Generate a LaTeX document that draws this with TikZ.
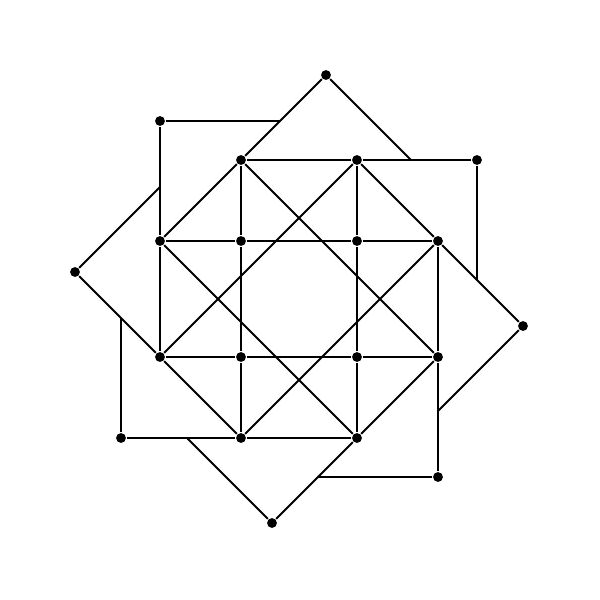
\documentclass[tikz,border=0pt]{standalone}
\usepackage{tikz}

\tikzset{vtx/.style={circle,fill=black,inner sep=0pt,minimum size=5.6pt}}

\begin{document}
\begin{tikzpicture}[x=0.02cm,y=0.02cm,line width=1.15pt]
    \useasboundingbox (-299,-301) rectangle (301,299);

    % inner square
    \node [vtx] (I1) at (-58,58) {};
    \node [vtx] (I2) at (58,58) {};
    \node [vtx] (I3) at (58,-58) {};
    \node [vtx] (I4) at (-58,-58) {};

    % middle ring
    \node [vtx] (M1) at (-139,58) {};
    \node [vtx] (M2) at (-58,139) {};
    \node [vtx] (M3) at (58,139) {};
    \node [vtx] (M4) at (139,58) {};
    \node [vtx] (M5) at (139,-58) {};
    \node [vtx] (M6) at (58,-139) {};
    \node [vtx] (M7) at (-58,-139) {};
    \node [vtx] (M8) at (-139,-58) {};

    % outer tips
    \node [vtx] (O1) at (27,224) {};
    \node [vtx] (O2) at (224,-27) {};
    \node [vtx] (O3) at (-27,-224) {};
    \node [vtx] (O4) at (-224,27) {};

    \node [vtx] (Q1) at (-139,178) {};
    \node [vtx] (Q2) at (178,139) {};
    \node [vtx] (Q3) at (139,-178) {};
    \node [vtx] (Q4) at (-178,-139) {};

    % free ends
    \coordinate (F1) at (-19,178);
    \coordinate (F2) at (178,19);
    \coordinate (F3) at (19,-178);
    \coordinate (F4) at (-178,-19);
    \coordinate (G1) at (112,139);
    \coordinate (G2) at (139,-112);
    \coordinate (G3) at (-112,-139);
    \coordinate (G4) at (-139,112);

    % grid
    \draw (M1) -- (I1) -- (I2) -- (M4);
    \draw (M8) -- (I4) -- (I3) -- (M5);
    \draw (M2) -- (I1) -- (I4) -- (M7);
    \draw (M3) -- (I2) -- (I3) -- (M6);

    % long diagonals
    \draw (M2) -- (M5);
    \draw (M4) -- (M7);
    \draw (M6) -- (M1);
    \draw (M8) -- (M3);

    % tilted squares
    \draw (O1) -- (M2) -- (M1);
    \draw (O2) -- (M4) -- (M3);
    \draw (O3) -- (M6) -- (M5);
    \draw (O4) -- (M8) -- (M7);
    \draw (O1) -- (G1);
    \draw (O2) -- (G2);
    \draw (O3) -- (G3);
    \draw (O4) -- (G4);

    % upright squares
    \draw (Q1) -- (M1) -- (M8);
    \draw (Q2) -- (M3) -- (M2);
    \draw (Q3) -- (M5) -- (M4);
    \draw (Q4) -- (M7) -- (M6);
    \draw (Q1) -- (F1);
    \draw (Q2) -- (F2);
    \draw (Q3) -- (F3);
    \draw (Q4) -- (F4);
\end{tikzpicture}
\end{document}
